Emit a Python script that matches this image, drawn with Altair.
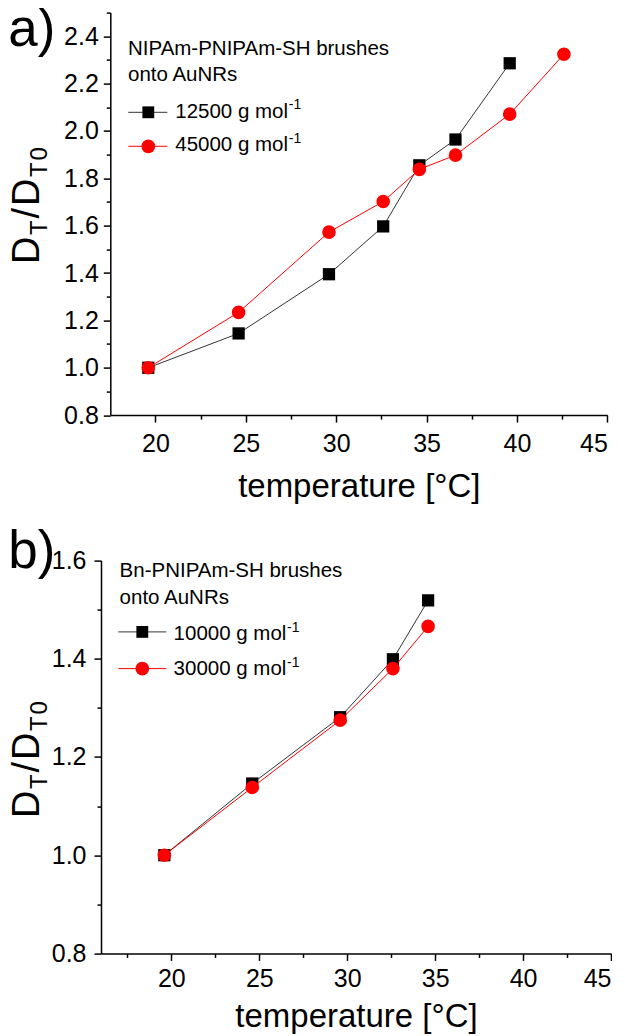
import altair as alt
import pandas as pd

FONT = "Liberation Sans"

# ---------------- data ----------------
# panel a: NIPAm-PNIPAm-SH brushes onto AuNRs
a_temp_12500 = [19.6, 24.6, 29.6, 32.6, 34.6, 36.6, 39.6]
a_ratio_12500 = [1.00, 1.145, 1.395, 1.597, 1.855, 1.964, 2.286]
a_temp_45000 = [19.6, 24.6, 29.6, 32.6, 34.6, 36.6, 39.6, 42.6]
a_ratio_45000 = [1.00, 1.234, 1.573, 1.702, 1.838, 1.898, 2.071, 2.324]

# panel b: Bn-PNIPAm-SH brushes onto AuNRs
b_temp_10000 = [19.6, 24.6, 29.6, 32.6, 34.6]
b_ratio_10000 = [1.00, 1.146, 1.281, 1.399, 1.519]
b_temp_30000 = [19.6, 24.6, 29.6, 32.6, 34.6]
b_ratio_30000 = [1.00, 1.138, 1.275, 1.380, 1.466]

x_major = [20, 25, 30, 35, 40, 45]
x_minor = [17.5, 22.5, 27.5, 32.5, 37.5, 42.5]
a_y_major = [0.8, 1.0, 1.2, 1.4, 1.6, 1.8, 2.0, 2.2, 2.4]
a_y_minor = [0.9, 1.1, 1.3, 1.5, 1.7, 1.9, 2.1, 2.3, 2.5]
b_y_major = [0.8, 1.0, 1.2, 1.4, 1.6]
b_y_minor = [0.9, 1.1, 1.3, 1.5]

BLACK_LINE = "#333333"
RED = "#ff0000"

# Arial / Liberation Sans advance widths (em) for the rotated y title
ADV = {"D": 0.722, "T": 0.611, "/": 0.278, "0": 0.556}


def df(t, r):
    return pd.DataFrame({"T": t, "R": r})


def txt(s, x, y, size, angle=0, align="left", baseline="alphabetic"):
    return alt.Chart(pd.DataFrame({"t": [s]})).mark_text(
        text=s, font=FONT, fontSize=size, angle=angle, align=align,
        baseline=baseline, color="black"
    ).encode(x=alt.value(x), y=alt.value(y))


def legend_entry(color, shape, size, x1, x2, xs, y, label, tx, ty):
    one = pd.DataFrame({"t": [0]})
    rule = alt.Chart(one).mark_rule(color=color, strokeWidth=1).encode(
        x=alt.value(x1), x2=alt.value(x2), y=alt.value(y))
    sym = alt.Chart(one).mark_point(shape=shape, filled=True, size=size,
                                    color=RED if color == RED else "black",
                                    opacity=1).encode(
        x=alt.value(xs), y=alt.value(y))
    main = txt(label, tx, ty, 20.5)
    sup = txt("-1", tx + 113.5, ty - 8.5, 14)
    return [rule, sym, main, sup]


def y_title(center):
    # D_T / D_T0, rotated, reading bottom to top
    glyphs = [("D", False), ("T", True), ("/", False), ("D", False),
              ("T", True), ("0", True)]
    big, small = 38, 24
    total = 117.0
    widths = [ADV[g] * (small if s else big) for g, s in glyphs]
    gap = (total - sum(widths)) / (len(glyphs) - 1)
    bx = -62.2
    y = center + total / 2
    out = []
    for (g, s), w in zip(glyphs, widths):
        out.append(txt(g, bx + 8 if s else bx, y, small if s else big, angle=270))
        y -= w + gap
    return out


def panel(tk, rk, tr, rr, xdom, xrange, W, ydom, H, ymaj, ymin, xminor,
          xlp, xtp, ylp, yoff, title_lines, tl_x, tl_y, entries, letter,
          letter_y, ytitle_center):
    xs = alt.Scale(domain=xdom, range=xrange, nice=False, zero=False)
    ys = alt.Scale(domain=ydom, nice=False, zero=False)
    common = dict(grid=False, domainColor="black", tickColor="black",
                  domainWidth=1.5, tickWidth=1.5, labelColor="black",
                  labelFont=FONT, labelFontSize=25)
    ax_x = alt.Axis(orient="bottom", values=x_major, tickSize=7,
                    labelPadding=xlp, format="d", title="temperature [°C]",
                    titleFont=FONT, titleFontSize=33, titleFontWeight="normal",
                    titleColor="black", titlePadding=xtp, **common)
    ax_x_min = alt.Axis(orient="bottom", values=xminor, tickSize=4,
                        labels=False, domain=False, grid=False,
                        tickColor="black", tickWidth=1.5)
    ax_y = alt.Axis(orient="left", values=ymaj, tickSize=7, labelPadding=ylp,
                    format=".1f", offset=yoff, **common)
    ax_y_min = alt.Axis(orient="left", values=ymin, tickSize=4, labels=False,
                        domain=False, grid=False, tickColor="black",
                        tickWidth=1.5, offset=yoff)

    dk, dr = df(tk, rk), df(tr, rr)
    base_k = alt.Chart(dk)
    line_k = base_k.mark_line(color=BLACK_LINE, strokeWidth=1).encode(
        x=alt.X("T:Q", scale=xs, axis=ax_x),
        y=alt.Y("R:Q", scale=ys, axis=ax_y, title=None))
    minor = base_k.mark_point(opacity=0).encode(
        x=alt.X("T:Q", scale=xs, axis=ax_x_min, title=None),
        y=alt.Y("R:Q", scale=ys, axis=ax_y_min, title=None))
    pts_k = base_k.mark_point(shape="square", filled=True, size=150,
                              color="black", opacity=1).encode(
        x=alt.X("T:Q", scale=xs, axis=None), y=alt.Y("R:Q", scale=ys, axis=None))
    line_r = alt.Chart(dr).mark_line(color=RED, strokeWidth=1).encode(
        x=alt.X("T:Q", scale=xs, axis=None), y=alt.Y("R:Q", scale=ys, axis=None))
    pts_r = alt.Chart(dr).mark_point(shape="circle", filled=True, size=185,
                                     color=RED, opacity=1).encode(
        x=alt.X("T:Q", scale=xs, axis=None), y=alt.Y("R:Q", scale=ys, axis=None))

    layers = [line_k, minor, pts_k, line_r, pts_r]
    # legend
    layers.append(txt(title_lines[0], tl_x, tl_y[0], 20.5))
    layers.append(txt(title_lines[1], tl_x, tl_y[1], 20.5))
    for e in entries:
        layers += legend_entry(*e)
    # panel letter
    layers.append(txt(letter, -92.7, letter_y, 53))
    # y title
    layers += y_title(ytitle_center)

    return alt.layer(*layers).resolve_axis(x="independent", y="independent") \
        .properties(width=W, height=H)


pa = panel(
    a_temp_12500, a_ratio_12500, a_temp_45000, a_ratio_45000,
    [17.5, 45], [9.3, 506.3], 510, [0.8, 2.5], 402.5,
    a_y_major, a_y_minor, x_minor[1:],
    9, 14, 5, -9.3,
    ["NIPAm-PNIPAm-SH brushes", "onto AuNRs"], 27, [42, 68.7],
    [
        (BLACK_LINE, "square", 140, 27.3, 66.3, 47.3, 99.7, "12500 g mol", 74.3, 105.3),
        (RED, "circle", 190, 27.3, 66.3, 47.3, 133.7, "45000 g mol", 74.3, 138.7),
    ],
    "a)", 33, 193,
)

pb = panel(
    b_temp_10000, b_ratio_10000, b_temp_30000, b_ratio_30000,
    [16, 45], [0, 510], 510, [0.8, 1.6], 392.8,
    b_y_major, b_y_minor, x_minor,
    6, 9, 8, 0,
    ["Bn-PNIPAm-SH brushes", "onto AuNRs"], 18.6, [16.3, 43],
    [
        (BLACK_LINE, "square", 140, 17.3, 65.3, 41.3, 71.3, "10000 g mol", 72.6, 79.6),
        (RED, "circle", 190, 17.3, 65.3, 41.3, 108, "30000 g mol", 72.6, 114.6),
    ],
    "b)", 7.5, 199,
)

chart = alt.vconcat(pa, pb, spacing=22).properties(
    padding={"left": 0, "top": -4.4, "right": 0, "bottom": 0},
    background="white",
).configure_view(stroke=None)

chart.save("out.html", embed_options={"renderer": "svg", "actions": False})
